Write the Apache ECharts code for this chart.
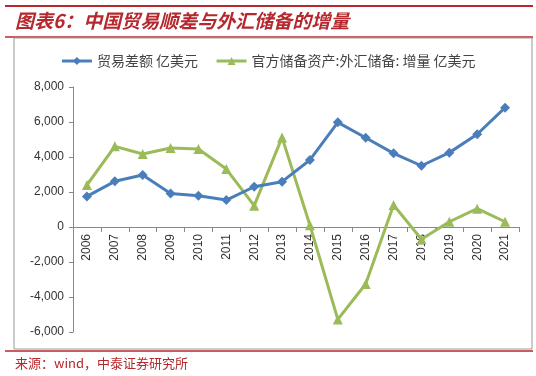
<!DOCTYPE html>
<html>
<head>
<meta charset="utf-8">
<script src="https://cdn.jsdelivr.net/npm/echarts@6/dist/echarts.min.js"></script>
<style>
  html, body { margin: 0; padding: 0; background: #fff; }
  #main { width: 536px; height: 376px; }
</style>
</head>
<body>
<div id="main"></div>
<script>
var years = ['2006', '2007', '2008', '2009', '2010', '2011', '2012', '2013',
             '2014', '2015', '2016', '2017', '2018', '2019', '2020', '2021'];
var tradeBalance = [1750, 2610, 2970, 1920, 1790, 1540, 2300, 2590,
                    3830, 5980, 5100, 4210, 3500, 4250, 5300, 6820];
var fxReserveChange = [2400, 4610, 4170, 4510, 4460, 3310, 1220, 5120,
                       100, -5280, -3260, 1260, -700, 300, 1050, 300];
var seriesNames = ['贸易差额 亿美元', '官方储备资产:外汇储备: 增量 亿美元'];

var myChart = echarts.init(document.getElementById('main'));
var font = '"Noto Sans CJK SC", "Noto Sans", sans-serif';
var red = '#b5282e';

var option = {
  backgroundColor: '#fff',
  textStyle: { fontFamily: font },
  graphic: [
    { type: 'line', shape: { x1: 5, y1: 6, x2: 533, y2: 6 }, style: { stroke: red, lineWidth: 2 } },
    { type: 'text', left: 15, top: 11,
      style: { text: '图表6：中国贸易顺差与外汇储备的增量', fill: red,
               font: 'italic bold 19px "Noto Sans CJK SC", sans-serif' } },
    { type: 'line', shape: { x1: 5, y1: 37, x2: 533, y2: 37 }, style: { stroke: red, lineWidth: 1.5 } },
    { type: 'rect', shape: { x: 14, y: 38, width: 518, height: 311 },
      style: { fill: 'none', stroke: '#999', lineWidth: 1 } },
    { type: 'line', shape: { x1: 5, y1: 351, x2: 533, y2: 351 }, style: { stroke: red, lineWidth: 1.5 } },
    { type: 'text', left: 15, top: 357,
      style: { text: '来源：wind，中泰证券研究所', fill: red, font: '13px "Noto Sans CJK SC", sans-serif' } }
  ],
  legend: {
    top: 49,
    left: 'center',
    itemWidth: 30,
    itemHeight: 10,
    itemGap: 17,
    lineStyle: { width: 3 },
    textStyle: { fontSize: 14, color: '#444', fontFamily: font },
    data: seriesNames
  },
  grid: { left: 73, right: 17, top: 87, bottom: 44 },
  xAxis: {
    type: 'category',
    data: years,
    offset: -105,
    axisLine: { onZero: false, lineStyle: { color: '#888' } },
    axisTick: { show: true, length: 5, lineStyle: { color: '#888' } },
    axisLabel: { rotate: 90, color: '#333', fontSize: 12, margin: 7, fontFamily: 'Liberation Sans, sans-serif' },
    splitLine: { show: false }
  },
  yAxis: {
    type: 'value',
    min: -6000,
    max: 8000,
    interval: 2000,
    axisLine: { show: true, lineStyle: { color: '#888' } },
    axisTick: { show: true, length: 4, lineStyle: { color: '#888' } },
    axisLabel: {
      color: '#333', fontSize: 12, margin: 9, fontFamily: 'Liberation Sans, sans-serif',
      formatter: function (v) { return v.toLocaleString('en-US'); }
    },
    splitLine: { show: false }
  },
  series: [
    {
      name: seriesNames[0],
      type: 'line',
      data: tradeBalance,
      symbol: 'diamond',
      symbolSize: 10,
      lineStyle: { color: '#4a7ebb', width: 3 },
      itemStyle: { color: '#4a7ebb' },
      z: 3
    },
    {
      name: seriesNames[1],
      type: 'line',
      data: fxReserveChange,
      symbol: 'triangle',
      symbolSize: 10,
      lineStyle: { color: '#9bbb59', width: 3 },
      itemStyle: { color: '#9bbb59' },
      z: 2
    }
  ]
};
myChart.setOption(option);
</script>
</body>
</html>
